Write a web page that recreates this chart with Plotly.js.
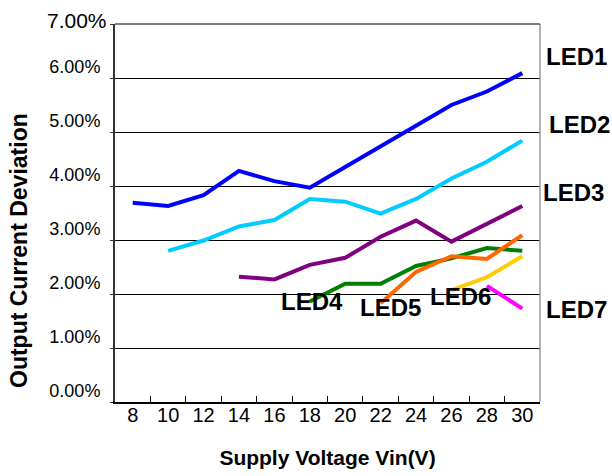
<!DOCTYPE html>
<html>
<head>
<meta charset="utf-8">
<script src="https://cdn.plot.ly/plotly-3.0.1.min.js"></script>
<style>html,body{margin:0;padding:0;background:#fff;}#chart{width:612px;height:476px;}</style>
</head>
<body>
<div id="chart"></div>
<script>
// Categories (supply voltage, V)
var voltages = ["8","10","12","14","16","18","20","22","24","26","28","30"];

// Output current deviation (fraction) per LED string; null = not measured
var led1 = [0.0369,0.0363,0.0383,0.0428,0.0409,0.0397,0.0435,0.0473,0.0513,0.0550,0.0575,0.0609];
var led2 = [null,0.0280,0.0299,0.0325,0.0337,0.0376,0.0371,0.0349,0.0376,0.0414,0.0445,0.0484];
var led3 = [null,null,null,0.0232,0.0227,0.0254,0.0267,0.0306,0.0336,0.0297,0.0331,0.0363];
var led4 = [null,null,null,null,null,0.0186,0.0219,0.0219,0.0252,0.0266,0.0285,0.0280];
var led5 = [null,null,null,null,null,null,null,0.0183,0.0241,0.0270,0.0265,0.0309];
var led6 = [null,null,null,null,null,null,null,null,null,0.0207,0.0231,0.0270];
var led7 = [null,null,null,null,null,null,null,null,null,null,0.0215,0.0173];

var seriesNames = ["LED1","LED2","LED3","LED4","LED5","LED6","LED7"];
var seriesData = [led1,led2,led3,led4,led5,led6,led7];
var seriesColors = ["#0000ff","#00ccff","#800080","#008000","#ff6600","#ffcc00","#ff00ff"];

// Y tick values / labels
var yTickVals = [0,0.01,0.02,0.03,0.04,0.05,0.06,0.07];
var yTickText = ["0.00%","1.00%","2.00%","3.00%","4.00%","5.00%","6.00%","7.00%"];

// Label placement (paper coords) for the series names
var labelPos = [
  {x:1.087,y:0.913},{x:1.092,y:0.735},{x:1.078,y:0.553},
  {x:0.464,y:0.265},{x:0.649,y:0.249},{x:0.814,y:0.278},{x:1.085,y:0.246}
];

var FONT = "'Liberation Sans', Arial, Helvetica, sans-serif";

var traces = seriesData.map(function(d,i){
  return {
    type:'scatter', mode:'lines', x:voltages, y:d, name:seriesNames[i],
    line:{color:seriesColors[i], width:4}, connectgaps:false, showlegend:false
  };
});

var annotations = seriesNames.map(function(n,i){
  return {
    xref:'paper', yref:'paper', x:labelPos[i].x, y:labelPos[i].y,
    text:'<b>'+n+'</b>', showarrow:false, xanchor:'center', yanchor:'middle',
    font:{family:FONT, size:24, color:'#000'}
  };
});
// top y tick label (drawn larger in the reference)
annotations.push({
  xref:'paper', yref:'y', x:0, y:yTickVals[7], xshift:-6, yshift:4,
  text:yTickText[7], showarrow:false, xanchor:'right', yanchor:'middle',
  font:{family:FONT, size:21, color:'#000'}
});
// y-axis title
annotations.push({
  xref:'paper', yref:'paper', x:-0.226, y:0.402, textangle:-90,
  text:'<b>Output Current Deviation</b>', showarrow:false,
  xanchor:'center', yanchor:'middle',
  font:{family:FONT, size:23, color:'#000'}
});

var layout = {
  width:612, height:476,
  margin:{l:115, r:72, t:24, b:74},
  paper_bgcolor:'#fff', plot_bgcolor:'#fff',
  font:{family:FONT, color:'#000'},
  showlegend:false,
  xaxis:{
    type:'category', categoryorder:'array', categoryarray:voltages,
    range:[-0.5, 11.5], tickson:'boundaries', ticks:'inside', ticklen:6, tickwidth:1,
    tickcolor:'#000', showgrid:false, showline:true, linecolor:'#000', linewidth:1.5,
    zeroline:false, tickfont:{family:FONT, size:20, color:'#000'},
    ticklabelstandoff:-6,
    title:{text:'<b>Supply Voltage Vin(V)</b>', font:{family:FONT, size:21, color:'#000'}, standoff:26},
    fixedrange:true
  },
  yaxis:{
    range:[0,0.07], tickmode:'array', tickvals:yTickVals,
    ticktext:yTickText.slice(0,7).concat(['']),
    ticks:'outside', ticklen:3, tickcolor:'#333',
    showgrid:true, gridcolor:'#000', gridwidth:1,
    showline:true, linecolor:'#333', linewidth:2, zeroline:false,
    tickfont:{family:FONT, size:18, color:'#000'},
    ticklabelshift:-11, ticklabelstandoff:6,
    fixedrange:true
  },
  shapes:[
    {type:'line', xref:'paper', yref:'paper', x0:1, x1:1, y0:0, y1:1, line:{color:'#999', width:1.5}},
    {type:'line', xref:'paper', yref:'paper', x0:0, x1:1, y0:1, y1:1, line:{color:'#000', width:1}}
  ],
  annotations:annotations
};

Plotly.newPlot('chart', traces, layout, {staticPlot:true, displayModeBar:false});
</script>
</body>
</html>
